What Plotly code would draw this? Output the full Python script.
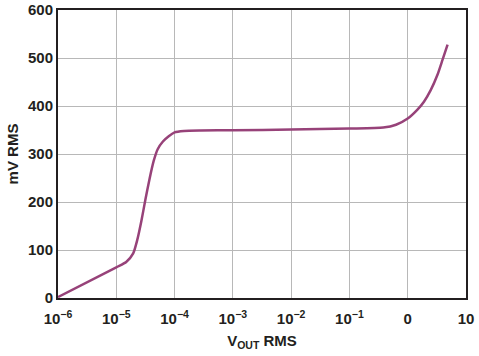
import plotly.graph_objects as go

# Data (x: V_OUT RMS, log scale; y: mV RMS)
x_vals = [1e-6, 1e-5, 1.48e-5, 1.95e-5, 2.29e-5, 2.69e-5, 3.16e-5, 3.72e-5, 4.37e-5, 5.13e-5,
          6.31e-5, 7.94e-5, 1.0e-4, 1.45e-4, 2.8e-4, 1e-3, 1e-2, 1e-1, 0.38, 0.63,
          1.0, 1.455, 1.9, 2.48, 3.24, 3.95, 4.83]
y_vals = [2, 64, 75, 93, 121, 160, 205, 248, 285, 310,
          326, 337, 345, 348, 349, 349.5, 351, 353, 355, 361,
          374, 392, 409, 433, 465, 496, 528]

tick_vals = [1e-6, 1e-5, 1e-4, 1e-3, 1e-2, 1e-1, 1, 10]
tick_text = ["10<sup>−6</sup>", "10<sup>−5</sup>", "10<sup>−4</sup>", "10<sup>−3</sup>",
             "10<sup>−2</sup>", "10<sup>−1</sup>", "0", "10"]
y_ticks = [0, 100, 200, 300, 400, 500, 600]

FAM = "Liberation Sans, Arial, sans-serif"
INK = "#231f20"

fig = go.Figure()
fig.add_trace(go.Scatter(x=x_vals, y=y_vals, mode="lines",
                         line=dict(color="#974279", width=2.5, shape="spline", smoothing=0.6),
                         hoverinfo="skip"))

fig.update_layout(
    width=479, height=356,
    margin=dict(l=58, r=13, t=10, b=58),
    paper_bgcolor="white", plot_bgcolor="white",
    showlegend=False,
    font=dict(family=FAM, size=14, color=INK),
    xaxis=dict(type="log", range=[-6, 1], tickvals=tick_vals, ticktext=tick_text,
               automargin=False,
               showgrid=True, gridcolor="#b8b8b8", gridwidth=1,
               showline=True, linecolor=INK, linewidth=2, mirror=True,
               ticks="outside", ticklen=6, tickcolor="rgba(0,0,0,0)",
               tickfont=dict(size=15, family=FAM, color=INK, weight="bold"),
               title=dict(text="V<sub>OUT</sub> RMS", standoff=9,
                          font=dict(size=15, family=FAM, color=INK, weight="bold")),
               zeroline=False),
    yaxis=dict(range=[0, 600], tickvals=y_ticks, automargin=False,
               showgrid=True, gridcolor="#b8b8b8", gridwidth=1,
               showline=True, linecolor=INK, linewidth=2, mirror=True,
               ticks="", tickfont=dict(size=15, family=FAM, color=INK, weight="bold"),
               title=dict(text="mV RMS", standoff=6,
                          font=dict(size=15, family=FAM, color=INK, weight="bold")),
               zeroline=False),
)

fig.write_html("out.html",
               config={"displayModeBar": False},
               post_script="document.body.style.margin='0';document.body.style.overflow='hidden';")
